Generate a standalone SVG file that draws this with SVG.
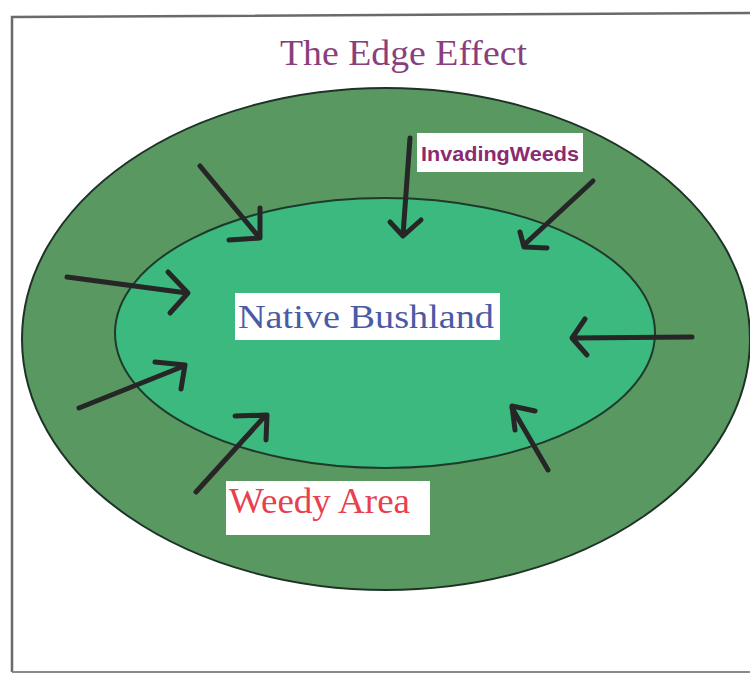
<svg xmlns="http://www.w3.org/2000/svg" width="750" height="675" viewBox="0 0 750 675">
<style>
.arrow{fill:none;stroke:#262626;stroke-width:5;stroke-linecap:round;stroke-linejoin:round}
.box{fill:#ffffff}
.serif{font-family:"Liberation Serif","Times New Roman",serif}
</style>
<rect x="0" y="0" width="750" height="675" fill="#ffffff"/>
<g id="frame">
<path d="M12 672 V17 L750 13" fill="none" stroke="#6a6a6a" stroke-width="2.5"/>
<path d="M12 672 H750" fill="none" stroke="#8a8a8a" stroke-width="2"/>
</g>
<g id="title">
<text x="280" y="65" class="serif" font-size="36" fill="#8a3f7d" textLength="247" lengthAdjust="spacingAndGlyphs">The Edge Effect</text>
</g>
<g id="weedy-area">
<ellipse cx="386" cy="339" rx="364" ry="251" fill="#5a9862" stroke="#1e3326" stroke-width="2"/>
</g>
<g id="native-bushland">
<ellipse cx="385" cy="333" rx="270" ry="135" fill="#3cb97f" stroke="#1e3b2a" stroke-width="2"/>
</g>
<g id="connectors">
<path class="arrow" d="M200 166 L258 236 M260 208 L260 238 L229 240"/>
<path class="arrow" d="M410 138 L403 235 M390 222 L403 236 L421 220"/>
<path class="arrow" d="M593 181 L525 244 M520 232 L524 247 L547 248"/>
<path class="arrow" d="M67 277 L187 293 M168 272 L188 293 L170 313"/>
<path class="arrow" d="M79 408 L184 366 M155 362 L185 365 L181 389"/>
<path class="arrow" d="M196 492 L265 416 M235 416 L267 415 L266 440"/>
<path class="arrow" d="M692 337 L573 338 M585 319 L572 338 L587 355"/>
<path class="arrow" d="M548 470 L512 408 M535 411 L512 406 L515 430"/>
</g>
<g id="label-invading">
<rect class="box" x="417" y="133" width="166" height="39"/>
<text x="421" y="161" font-family="'Liberation Sans',Arial,sans-serif" font-weight="bold" font-size="21" fill="#8c2a70" textLength="158" lengthAdjust="spacingAndGlyphs">InvadingWeeds</text>
</g>
<g id="label-native">
<rect class="box" x="235" y="293" width="265" height="47"/>
<text x="238" y="328" class="serif" font-size="34" fill="#4a5ba6" textLength="256" lengthAdjust="spacingAndGlyphs">Native Bushland</text>
</g>
<g id="label-weedy">
<rect class="box" x="226" y="481" width="204" height="54"/>
<text x="229" y="513" class="serif" font-size="35" fill="#e8404e" textLength="181" lengthAdjust="spacingAndGlyphs">Weedy Area</text>
</g>
</svg>
